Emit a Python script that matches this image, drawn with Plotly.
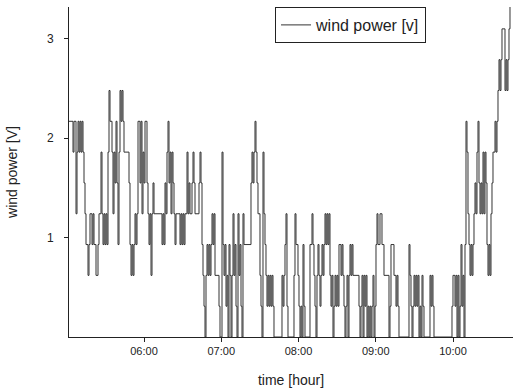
import pandas as pd
import plotly.graph_objects as go

# Wind power signal [V], one sample per logger interval starting 05:01:45
start_time = "2000-01-01 05:01:45"
sample_interval = "46600ms"
wind_power = [
    # 05:01 -
    2.17, 2.17, 2.17, 2.17, 1.86, 2.17, 2.17, 1.24, 1.86, 2.17,
    1.86, 2.17, 1.86, 2.17, 1.86, 1.55, 1.24, 0.93, 0.93, 0.62,
    0.93, 1.24, 1.24, 0.93, 1.24, 0.93, 0.93, 0.62, 0.62, 0.93,
    1.24, 1.24, 1.86, 1.24, 0.93, 1.24, 0.93, 1.24, 0.93, 1.86,
    2.48, 2.17, 2.17, 1.86, 1.24, 1.86, 1.55, 2.17, 1.55, 0.93,
    1.86, 2.48, 2.17, 2.48, 2.17, 1.86,
    # ~05:45 -
    1.86, 1.86, 1.86, 1.86, 1.55, 0.93, 0.62, 0.93, 0.62, 0.93,
    1.24, 0.93, 1.24, 2.17, 2.17, 1.55, 2.17, 1.24, 1.86, 1.55,
    2.17, 2.17, 1.55, 1.24, 0.93, 1.24, 0.62, 1.24, 1.55, 1.24,
    1.24, 1.24, 1.24, 1.24, 1.24, 1.24, 1.24, 0.93, 1.24, 0.93,
    1.55, 1.24, 1.86, 2.17, 1.55, 1.86, 1.24, 1.86, 1.55, 1.24,
    0.93, 1.24, 1.24, 1.24, 1.24, 0.93,
    # ~06:28 -
    1.24, 0.93, 1.24, 0.93, 1.24, 1.24, 1.86, 1.24, 1.55, 1.24,
    1.24, 1.55, 1.86, 1.55, 1.24, 1.24, 1.24, 1.24, 1.55, 1.86,
    1.55, 0.93, 0.62, 0.31, 0.00, 0.62, 0.93, 0.62, 0.93, 0.62,
    0.93, 1.24, 0.93, 1.24, 0.62, 0.62, 0.62, 0.62, 0.31, 0.00,
    0.00, 1.86, 0.93, 0.62, 0.93, 0.31, 0.62, 0.00, 0.93, 0.62,
    0.00, 0.62, 1.24, 0.62, 0.93, 0.31,
    # ~07:12 -
    0.00, 1.24, 0.62, 0.93, 0.31, 0.00, 1.24, 0.93, 0.93, 0.93,
    0.93, 0.93, 0.93, 0.93, 1.55, 1.86, 1.55, 1.86, 2.17, 1.86,
    1.55, 1.24, 1.24, 0.62, 0.31, 0.00, 1.86, 1.24, 0.93, 0.62,
    0.31, 0.62, 0.31, 0.62, 0.31, 0.62, 0.31, 0.00, 0.00, 0.00,
    0.00, 0.00, 0.00, 0.00, 0.00, 0.62, 0.31, 0.62, 0.93, 1.24,
    0.31, 0.00, 0.00, 0.00, 0.00, 0.00,
    # ~07:55 -
    0.00, 0.62, 1.24, 0.93, 0.93, 0.62, 0.31, 0.00, 0.31, 0.00,
    0.93, 0.31, 0.00, 0.00, 0.00, 0.00, 0.00, 0.93, 0.93, 1.24,
    0.93, 0.62, 0.31, 0.00, 0.62, 0.93, 0.62, 0.31, 0.62, 0.93,
    0.62, 0.93, 1.24, 0.93, 1.24, 0.93, 1.24, 0.62, 0.31, 0.62,
    0.00, 0.31, 0.62, 0.31, 0.62, 0.31, 0.93, 0.93, 0.62, 0.93,
    0.62, 0.31, 0.00, 0.31, 0.62, 0.00,
    # ~08:39 -
    0.62, 0.93, 0.62, 0.93, 0.62, 0.62, 0.62, 0.62, 0.62, 0.62,
    0.31, 0.00, 0.31, 0.62, 0.00, 0.62, 0.31, 0.62, 0.00, 0.31,
    0.00, 0.31, 0.00, 0.31, 0.62, 0.00, 0.31, 0.93, 1.24, 0.93,
    0.93, 1.24, 1.24, 0.93, 0.93, 0.62, 0.62, 0.62, 0.62, 0.62,
    0.00, 0.31, 0.93, 0.93, 0.93, 0.62, 0.62, 0.31, 0.62, 0.31,
    0.00, 0.00, 0.00, 0.00, 0.00, 0.00,
    # ~09:22 -
    0.00, 0.00, 0.00, 0.00, 0.93, 0.62, 0.31, 0.00, 0.31, 0.62,
    0.31, 0.62, 0.31, 0.62, 0.00, 0.31, 0.00, 0.62, 0.31, 0.00,
    0.00, 0.00, 0.00, 0.00, 0.00, 0.62, 0.31, 0.62, 0.31, 0.00,
    0.00, 0.00, 0.00, 0.00, 0.00, 0.00, 0.00, 0.00, 0.00, 0.00,
    0.00, 0.00, 0.00, 0.00, 0.00, 0.00, 0.00, 0.31, 0.62, 0.62,
    0.31, 0.62, 0.00, 0.62, 0.00, 0.31,
    # ~10:06 -
    0.93, 0.31, 0.62, 0.00, 0.93, 2.17, 1.86, 1.24, 0.93, 0.62,
    0.93, 0.62, 0.93, 1.24, 1.55, 1.24, 1.86, 2.17, 1.55, 1.24,
    1.55, 1.24, 1.86, 1.24, 1.86, 1.55, 0.93, 0.62, 0.93, 0.62,
    1.24, 1.55, 1.86, 1.86, 2.17, 1.86, 2.17, 2.48, 2.79, 2.48,
    2.79, 3.10, 3.10, 3.10, 2.48, 2.79, 2.48, 2.79, 3.10, 3.35,
    3.35, 3.35,
]

x_ticks = ["2000-01-01 06:00", "2000-01-01 07:00", "2000-01-01 08:00",
           "2000-01-01 09:00", "2000-01-01 10:00"]
x_tick_labels = ["06:00", "07:00", "08:00", "09:00", "10:00"]
y_ticks = [1, 2, 3]
y_tick_labels = ["1", "2", "3"]
x_range = ["2000-01-01 05:01:45", "2000-01-01 10:46:36"]
y_range = [0, 3.32]

times = pd.date_range(start_time, periods=len(wind_power), freq=sample_interval)

FONT = "Liberation Sans, Arial, sans-serif"

fig = go.Figure()
fig.add_trace(go.Scatter(
    x=times, y=wind_power, mode="lines", name="wind power [v]",
    line=dict(color="#333333", width=1, shape="hv"),
))

fig.update_layout(
    width=513, height=392,
    margin=dict(l=69, r=0, t=7, b=55),
    paper_bgcolor="white", plot_bgcolor="white",
    font=dict(family=FONT, color="#222"),
    showlegend=True,
    legend=dict(
        x=0.464, y=1.0, xanchor="left", yanchor="top",
        bgcolor="white", bordercolor="#222", borderwidth=1,
        font=dict(family=FONT, size=16, color="#222"),
        tracegroupgap=0, itemwidth=30,
    ),
)

fig.update_xaxes(
    type="date", range=x_range,
    tickvals=x_ticks, ticktext=x_tick_labels,
    ticks="outside", ticklen=4, tickwidth=1, tickcolor="#222",
    showline=True, linecolor="#222", linewidth=1,
    showgrid=False, zeroline=False, mirror=False,
    tickfont=dict(family=FONT, size=11, color="#222"),
    title=dict(text="time [hour]", font=dict(family=FONT, size=14, color="#222"), standoff=18),
    automargin=False,
)
fig.update_yaxes(
    range=y_range,
    tickvals=y_ticks, ticktext=y_tick_labels,
    ticks="outside", ticklen=4, tickwidth=1, tickcolor="#222",
    showline=True, linecolor="#222", linewidth=1,
    showgrid=False, zeroline=False, mirror=False,
    ticklabelstandoff=8,
    tickfont=dict(family=FONT, size=12, color="#222"),
    title=dict(text="wind power [V]", font=dict(family=FONT, size=14, color="#222"), standoff=26),
    automargin=False,
)

fig.write_html("out.html")
